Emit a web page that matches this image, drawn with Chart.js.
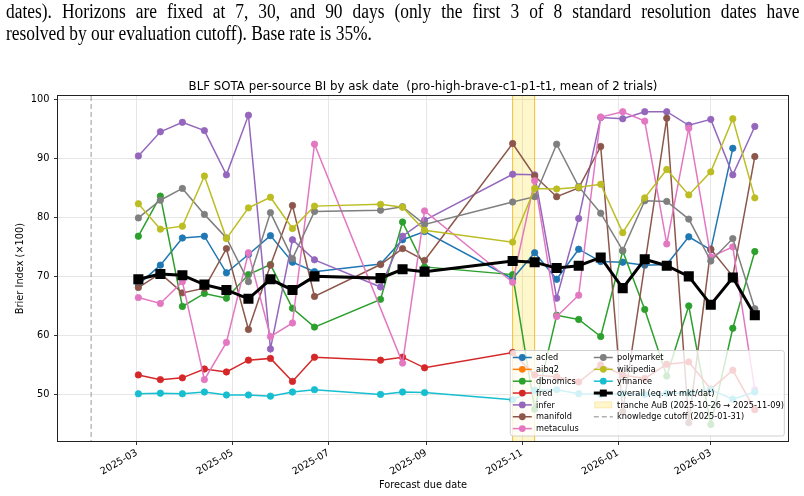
<!DOCTYPE html>
<html>
<head>
<meta charset="UTF-8">
<title>BLF SOTA per-source BI by ask date</title>
<script src="https://cdn.jsdelivr.net/npm/chart.js"></script>
<style>
  body { margin: 0; background: #fff; width: 804px; height: 496px; overflow: hidden; }
  #intro {
    position: absolute; left: 6px; top: 0; z-index: 2;
    font-family: 'Liberation Serif', serif; font-size: 20px; line-height: 22px;
    color: #000; white-space: nowrap;
    width: 912px; transform: scaleX(0.87); transform-origin: 0 0;
  }
  #intro .just { text-align: justify; text-align-last: justify; }
  #wrap { position: absolute; left: 0; top: 0; width: 804px; height: 496px; }
</style>
</head>
<body>
<div id="intro">
  <div class="just">dates). Horizons are fixed at 7, 30, and 90 days (only the first 3 of 8 standard resolution dates have</div>
  <div>resolved by our evaluation cutoff). Base rate is 35%.</div>
</div>
<div id="wrap"><canvas id="chart"></canvas></div>

<script>
  // ask dates (biweekly, with gaps)
  const dates = ['2025-03-02','2025-03-16','2025-03-30','2025-04-13','2025-04-27','2025-05-11',
    '2025-05-25','2025-06-08','2025-06-22','2025-08-03','2025-08-17','2025-08-31',
    '2025-10-26','2025-11-09','2025-11-23','2025-12-07','2025-12-21','2026-01-04',
    '2026-01-18','2026-02-01','2026-02-15','2026-03-01','2026-03-15','2026-03-29'];

  const xTicks = ['2025-03-01','2025-05-01','2025-07-01','2025-09-01','2025-11-01','2026-01-01','2026-03-01'];
  const yTicks = [50, 60, 70, 80, 90, 100];
  const tranche = ['2025-10-26', '2025-11-09'];
  const cutoff = '2025-01-31';

  // Brier index x100 per source (null = no forecast that date)
  const acled      = [68.6,71.9,76.5,76.8,70.6,73.7,76.9,72.4,70.8,72.1,76.2,77.6,69.6,74.0,69.5,74.6,72.5,72.4,71.9,72.0,76.7,74.5,91.7,null];
  const aibq2      = [];
  const dbnomics   = [76.8,83.6,64.9,67.1,66.3,70.3,72.0,64.6,61.4,66.1,79.2,71.6,70.3,47.5,63.4,62.7,59.8,74.3,64.4,53.1,65.0,44.9,61.2,74.2];
  const fred       = [53.3,52.5,52.8,54.3,53.8,55.8,56.1,52.2,56.3,55.8,56.3,54.5,57.1,53.3,53.0,52.1,55.0,53.3,52.7,55.1,55.5,50.9,54.1,47.4];
  const infer      = [90.4,94.5,96.1,94.7,87.2,97.3,57.7,76.2,72.8,68.2,76.8,79.5,87.3,87.2,66.3,79.8,96.9,96.7,97.9,97.9,95.6,96.6,87.2,95.4];
  const manifold   = [68.1,70.5,67.2,68.0,74.7,61.0,71.9,82.0,66.6,72.0,74.7,72.7,92.5,87.0,83.5,85.0,92.0,47.1,null,96.8,45.2,74.6,70.0,90.3];
  const metaculus  = [66.4,65.4,69.1,52.5,58.8,74.0,59.8,62.1,92.4,null,55.3,81.1,69.0,86.2,63.2,66.8,97.0,97.9,96.3,75.5,95.1,73.3,75.0,50.8];
  const polymarket = [79.9,82.9,84.9,80.5,76.5,69.1,80.8,73.0,81.0,81.2,81.8,78.8,82.6,83.5,92.4,85.2,80.7,74.4,82.8,82.7,79.7,72.6,76.4,64.5];
  const wikipedia  = [82.3,78.0,78.5,87.0,76.4,81.6,83.4,78.1,81.9,82.2,81.7,77.8,75.8,84.9,84.8,85.1,85.6,77.4,83.3,88.1,83.8,87.7,96.7,83.3];
  const yfinance   = [50.1,50.2,50.1,50.4,49.9,49.9,49.7,50.4,50.8,50.0,50.4,50.3,49.1,50.7,50.8,50.1,50.0,50.1,50.0,50.2,50.2,50.8,49.2,50.4];
  const overall    = [69.5,70.4,70.2,68.6,67.7,66.2,69.5,67.7,70.0,69.7,71.2,70.8,72.6,72.4,71.4,71.8,73.2,68.0,72.9,71.8,70.0,65.2,69.8,63.4];

  const sources = [
    ['acled', acled, '#1f77b4'],
    ['aibq2', aibq2, '#ff7f0e'],
    ['dbnomics', dbnomics, '#2ca02c'],
    ['fred', fred, '#d62728'],
    ['infer', infer, '#9467bd'],
    ['manifold', manifold, '#8c564b'],
    ['metaculus', metaculus, '#e377c2'],
    ['polymarket', polymarket, '#7f7f7f'],
    ['wikipedia', wikipedia, '#bcbd22'],
    ['yfinance', yfinance, '#17becf']
  ];

  const day = s => Date.UTC(+s.slice(0, 4), +s.slice(5, 7) - 1, +s.slice(8, 10)) / 864e5;
  const fmtMonth = v => {
    const d = new Date(Math.round(v) * 864e5);
    return d.getUTCFullYear() + '-' + String(d.getUTCMonth() + 1).padStart(2, '0');
  };
  const toPoints = vals => vals.map((y, k) => ({ x: day(dates[k]), y })).filter(p => p.y !== null);

  const datasets = sources.map(([label, vals, color], i) => ({
    label,
    data: toPoints(vals),
    borderColor: color,
    backgroundColor: color,
    borderWidth: 1.5,
    pointRadius: 3.2,
    pointBorderWidth: 0.8,
    pointHoverRadius: 3.2,
    order: sources.length - i
  }));
  datasets.push({
    label: 'overall (eq.-wt mkt/dat)',
    data: toPoints(overall),
    borderColor: '#000',
    backgroundColor: '#000',
    borderWidth: 3,
    pointStyle: 'rect',
    pointRadius: 5,
    pointHoverRadius: 5,
    order: 0
  });

  const spanFill = 'rgba(255,215,0,0.2)';
  const spanEdge = 'rgba(240,180,20,0.85)';
  const cutColor = 'rgba(150,150,150,0.75)';

  // tranche band + knowledge cutoff, under the lines
  const backdrop = {
    id: 'backdrop',
    beforeDatasetsDraw(chart) {
      const { ctx, chartArea: a, scales: { x } } = chart;
      const x0 = x.getPixelForValue(day(tranche[0]));
      const x1 = x.getPixelForValue(day(tranche[1]));
      ctx.save();
      ctx.fillStyle = spanFill;
      ctx.fillRect(x0, a.top, x1 - x0, a.bottom - a.top);
      ctx.strokeStyle = spanEdge;
      ctx.lineWidth = 1;
      ctx.beginPath();
      ctx.moveTo(x0, a.top); ctx.lineTo(x0, a.bottom);
      ctx.moveTo(x1, a.top); ctx.lineTo(x1, a.bottom);
      ctx.stroke();
      const xc = x.getPixelForValue(day(cutoff));
      ctx.strokeStyle = cutColor;
      ctx.lineWidth = 1.3;
      ctx.setLineDash([5, 3]);
      ctx.beginPath();
      ctx.moveTo(xc, a.top); ctx.lineTo(xc, a.bottom);
      ctx.stroke();
      ctx.restore();
    }
  };

  // frame and title
  const frame = {
    id: 'frame',
    afterDatasetsDraw(chart) {
      const { ctx, chartArea: a } = chart;
      ctx.save();
      ctx.strokeStyle = '#222';
      ctx.lineWidth = 1;
      ctx.strokeRect(Math.round(a.left) - 0.5, Math.round(a.top) - 0.5, a.right - a.left + 1, a.bottom - a.top + 1);
      ctx.fillStyle = '#000';
      ctx.font = '11.8px "DejaVu Sans"';
      ctx.textAlign = 'center';
      ctx.textBaseline = 'alphabetic';
      ctx.fillText('BLF SOTA per-source BI by ask date  (pro-high-brave-c1-p1-t1, mean of 2 trials)', (a.left + a.right) / 2, a.top - 6.5);
      ctx.restore();
    }
  };

  // two-column legend in the lower right
  const boxLegend = {
    id: 'boxLegend',
    afterDatasetsDraw(chart) {
      const { ctx, chartArea: a } = chart;
      const w = 274, h = 85.5;
      const bx = a.right - 3.7 - w, by = a.bottom - 5 - h;
      ctx.save();
      ctx.beginPath();
      ctx.roundRect(bx, by, w, h, 2.5);
      ctx.fillStyle = 'rgba(255,255,255,0.8)';
      ctx.fill();
      ctx.strokeStyle = 'rgba(204,204,204,0.9)';
      ctx.lineWidth = 1;
      ctx.stroke();

      const items = chart.data.datasets.map(ds => ({ kind: 'line', ds, label: ds.label }));
      items.push({ kind: 'span', label: 'tranche AuB (2025-10-26 \u2192 2025-11-09)' });
      items.push({ kind: 'dash', label: 'knowledge cutoff (2025-01-31)' });

      ctx.font = '8.2px "DejaVu Sans"';
      ctx.textBaseline = 'middle';
      items.forEach((it, k) => {
        const col = k < 7 ? 0 : 1;
        const row = k < 7 ? k : k - 7;
        const hx = bx + 2.5 + col * 81;
        const y = by + 7 + row * 11.85;
        const hw = 19;
        ctx.save();
        if (it.kind === 'line') {
          const ds = it.ds;
          ctx.strokeStyle = ds.borderColor;
          ctx.fillStyle = ds.backgroundColor;
          ctx.lineWidth = ds.borderWidth;
          ctx.beginPath();
          ctx.moveTo(hx, y); ctx.lineTo(hx + hw, y);
          ctx.stroke();
          if (ds.pointStyle === 'rect') {
            ctx.fillRect(hx + hw / 2 - 3.5, y - 3.5, 7, 7);
          } else {
            ctx.beginPath();
            ctx.arc(hx + hw / 2, y, 3.4, 0, Math.PI * 2);
            ctx.fill();
          }
        } else if (it.kind === 'span') {
          ctx.fillStyle = spanFill;
          ctx.fillRect(hx + 1, y - 3, hw - 2, 6);
          ctx.strokeStyle = 'rgba(240,180,20,0.25)';
          ctx.strokeRect(hx + 1, y - 3, hw - 2, 6);
        } else {
          ctx.strokeStyle = cutColor;
          ctx.lineWidth = 1.3;
          ctx.setLineDash([5, 3]);
          ctx.beginPath();
          ctx.moveTo(hx, y); ctx.lineTo(hx + hw, y);
          ctx.stroke();
        }
        ctx.restore();
        ctx.fillStyle = '#000';
        ctx.fillText(it.label, hx + 23.3, y + 0.5);
      });
      ctx.restore();
    }
  };

  const tickFont = { family: 'DejaVu Sans', size: 9.8 };

  new Chart(document.getElementById('chart'), {
    type: 'line',
    data: { datasets },
    options: {
      responsive: true,
      maintainAspectRatio: false,
      animation: false,
      events: [],
      layout: { padding: { top: 96, right: 16, bottom: 0, left: 0 } },
      plugins: {
        legend: { display: false },
        tooltip: { enabled: false },
        title: { display: false }
      },
      scales: {
        x: {
          type: 'linear',
          bounds: 'data',
          min: day(cutoff) - 21.1,
          max: day(dates[dates.length - 1]) + 21.1,
          afterBuildTicks: s => { s.ticks = xTicks.map(d => ({ value: day(d) })); },
          afterFit: s => { s.height = 55; },
          ticks: {
            autoSkip: false, minRotation: 30, maxRotation: 30,
            font: tickFont, color: '#000', padding: 2,
            callback: v => fmtMonth(v)
          },
          grid: { color: '#e6e6e6', tickColor: '#333', tickLength: 4 },
          border: { display: false },
          title: {
            display: true, text: 'Forecast due date', color: '#000',
            font: { family: 'DejaVu Sans', size: 9.8 }, padding: { top: 0, bottom: 5 }
          }
        },
        y: {
          min: 42.1,
          max: 100.56,
          bounds: 'data',
          afterBuildTicks: s => { s.ticks = yTicks.map(v => ({ value: v })); },
          afterFit: s => { s.width = 58; },
          ticks: { font: tickFont, color: '#000', padding: 4.5 },
          grid: { color: '#e6e6e6', tickColor: '#333', tickLength: 4 },
          border: { display: false },
          title: {
            display: true, text: 'Brier Index (\u00d7100)', color: '#000',
            font: { family: 'DejaVu Sans', size: 9.8 }, padding: { top: 14.5, bottom: 0 }
          }
        }
      }
    },
    plugins: [backdrop, frame, boxLegend]
  });
</script>
</body>
</html>
